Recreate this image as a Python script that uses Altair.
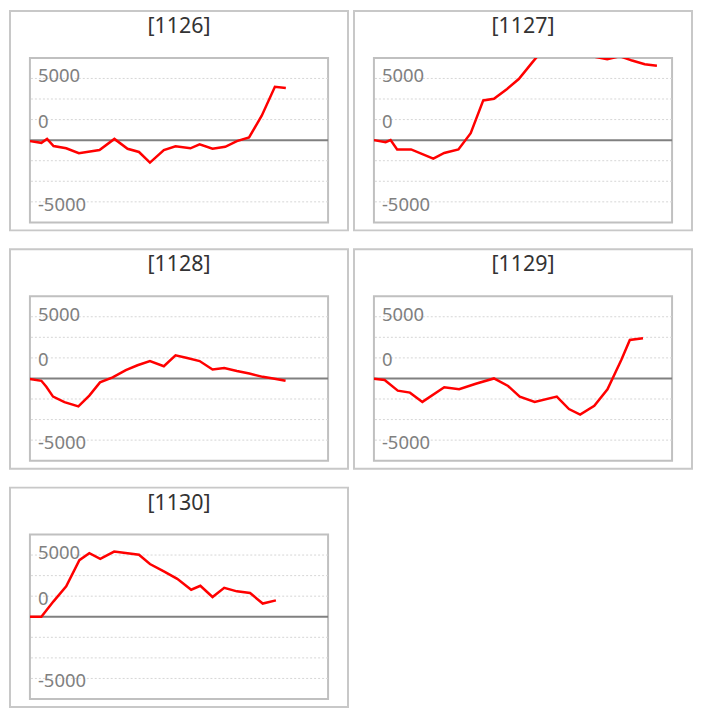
import altair as alt
import pandas as pd

names = ["[1126]", "[1127]", "[1128]", "[1129]", "[1130]"]

# x: minutes into the session, y: value
x_1126 = [0, 9.2, 13.8, 19, 29.2, 39.4, 56, 68, 78.6, 87.8, 96.6, 107.8, 117.2, 129.2, 136.6, 147, 157.2, 166.6, 176.4, 186.6, 197.2, 206]
y_1126 = [-80, -220, 100, -480, -660, -1060, -800, 100, -700, -960, -1820, -800, -500, -660, -340, -700, -540, -80, 220, 1980, 4320, 4220]

x_1127 = [0, 9.4, 13.4, 18.7, 29.9, 47.8, 56.6, 68, 77.9, 88, 96.6, 107.2, 116.6, 127.5, 138.2, 147.8, 158, 167.8, 178, 187.8, 198, 207.8, 218, 227.8]
y_1127 = [0, -160, 0, -750, -750, -1500, -1040, -750, 560, 3220, 3350, 4150, 4950, 6300, 7600, 8300, 8600, 8000, 6750, 6560, 6800, 6450, 6150, 6030]

x_1128 = [0, 9.2, 13.2, 18.6, 27.8, 39, 47.8, 56.4, 66.6, 77.2, 86.6, 96.6, 107.8, 117.2, 126.6, 136.6, 147, 156.4, 166.6, 176.6, 187.4, 195.8, 205.8]
y_1128 = [-50, -190, -670, -1470, -1920, -2270, -1390, -320, 80, 670, 1070, 1410, 990, 1870, 1650, 1410, 720, 850, 610, 400, 130, 0, -190]

x_1129 = [0, 8.6, 19.2, 29, 39, 56.6, 68.6, 82, 96.6, 108, 117.4, 129.4, 147.2, 157, 166, 177.4, 188, 199.2, 206, 216.6]
y_1129 = [-30, -130, -990, -1150, -1900, -720, -880, -430, 0, -610, -1470, -1900, -1470, -2480, -2930, -2210, -880, 1520, 3120, 3250]

x_1130 = [0, 9.2, 19, 29.2, 39.8, 47.8, 56.6, 67.8, 87.8, 96.6, 107.8, 118.6, 129.8, 137.2, 147, 156.4, 166.6, 177.2, 187.4, 198]
y_1130 = [0, 0, 1250, 2460, 4590, 5150, 4700, 5280, 5020, 4270, 3680, 3070, 2190, 2510, 1600, 2350, 2060, 1920, 1070, 1330]

grid_values = [-5000, -3333.3, -1666.7, 1666.7, 3333.3, 5000]
tick_values = [5000, 0, -5000]
tick_labels = ["5000", "0", "-5000"]
Y_DOMAIN = [-6666.7, 6666.7]
X_DOMAIN = [0, 240]

W, H = 299, 165
# vertical nudge of each tick label (style, in px)
LABEL_DY = {5000: -2, 0: -18, -5000: 3}


def panel(name, xs, ys):
    yscale = alt.Scale(domain=Y_DOMAIN, nice=False, zero=False)
    xscale = alt.Scale(domain=X_DOMAIN, nice=False, zero=False)
    one = alt.Data(values=[{"name": name}])

    box = alt.Chart(one).mark_rect(
        filled=False, stroke="#c8c8c8", strokeWidth=2, clip=False
    ).encode(
        x=alt.value(-20), x2=alt.value(W + 20),
        y=alt.value(-47), y2=alt.value(H + 8),
    )

    title = alt.Chart(one).mark_text(
        font="Noto Sans", fontSize=21.5, color="#333333",
        align="center", baseline="alphabetic", clip=False
    ).encode(text="name:N", x=alt.value(W / 2), y=alt.value(-25))

    grid = alt.Chart(pd.DataFrame({"g": grid_values})).mark_rule(
        color="#d6d6d6", strokeDash=[2, 2], strokeWidth=1
    ).encode(y=alt.Y("g:Q", scale=yscale, axis=None))

    tick_df = pd.DataFrame({"tv": tick_values, "tl": tick_labels})
    label_layers = []
    for tv in tick_values:
        label_layers.append(
            alt.Chart(tick_df).transform_filter(f"datum.tv === {tv}").mark_text(
                font="Noto Sans", fontSize=18.5, color="#808080",
                align="left", baseline="middle", dy=LABEL_DY[tv]
            ).encode(
                x=alt.value(8),
                y=alt.Y("tv:Q", scale=yscale, axis=None),
                text="tl:N",
            )
        )

    zero = alt.Chart(pd.DataFrame({"z": [0]})).mark_rule(
        color="#808080", strokeWidth=2
    ).encode(y=alt.Y("z:Q", scale=yscale, axis=None))

    line = alt.Chart(pd.DataFrame({"t": xs, "v": ys})).mark_line(
        color="#ff0000", strokeWidth=2.5, clip=True
    ).encode(
        x=alt.X("t:Q", scale=xscale, axis=None),
        y=alt.Y("v:Q", scale=yscale, axis=None),
    )

    return alt.layer(box, title, grid, *label_layers, zero, line).properties(width=W, height=H)


panels = [
    panel(names[0], x_1126, y_1126),
    panel(names[1], x_1127, y_1127),
    panel(names[2], x_1128, y_1128),
    panel(names[3], x_1129, y_1129),
    panel(names[4], x_1130, y_1130),
]

chart = alt.concat(
    *panels, columns=2, spacing={"row": 74, "column": 46}, bounds="flush"
).properties(padding=0, background="white").configure_view(
    stroke="#c0c0c0", strokeWidth=2
)

chart.save("out.html", embed_options={"renderer": "svg", "actions": False})
